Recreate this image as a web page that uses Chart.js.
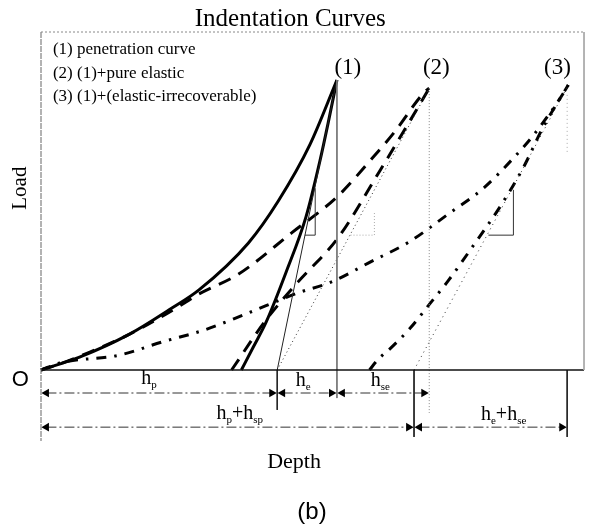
<!DOCTYPE html>
<html>
<head>
<meta charset="utf-8">
<script src="https://cdn.jsdelivr.net/npm/chart.js@4"></script>
<style>
  html, body { margin: 0; padding: 0; background: #fff; }
  #wrap { width: 589px; height: 528px; position: relative; }
</style>
</head>
<body>
<div id="wrap"><canvas id="chart"></canvas></div>
<script>
// depth (0..100) / load (0..100)
const penLoading   = [[0,0],[7.1,3.8],[16.3,10.6],[23.6,17.8],[29.1,23.7],[38.2,37.6],[43.7,50.0],[49.5,66.6],[54.5,85.8]];
const penUnloading = [[36.9,0],[39.1,6.8],[41.5,14.3],[45.2,29.2],[48.8,45.3],[51.4,62.1],[53.0,74.0],[54.5,85.8]];
const penTangent   = [[43.5,0],[54.5,85.8]];
const penSlopeTri  = [[48.6,39.9],[50.5,39.9],[50.5,53.8]];

const elaLoading   = [[0,0],[4.0,2.1],[9.0,5.3],[15.7,10.1],[21.8,15.4],[26.7,20.1],[29.1,22.5],[36.4,28.4],[46.1,40.5],[54.7,51.5],[60.7,62.1],[65.1,70.4],[70.6,82.2],[71.5,83.4]];
const elaUnloading = [[35.1,0],[41.3,14.5],[47.3,26.0],[54.7,39.1],[62.5,59.2],[67.5,72.5],[71.5,83.4]];
const elaSlope     = [[43.5,0],[71.5,83.4]];
const elaSlopeTri  = [[57.0,39.9],[61.4,39.9],[61.4,46.7]];

const irrLoading   = [[0,0],[3.5,2.1],[14.4,4.4],[22.3,8.3],[30.0,11.8],[37.3,16.3],[47.3,22.8],[53.4,26.0],[60.7,32.0],[67.8,37.9],[74.8,45.9],[81.5,53.8],[87.0,62.7],[90.7,69.5],[95.4,79.9],[97.1,84.3]];
const irrUnloading = [[60.5,0],[62.0,3.0],[64.4,6.5],[68.0,12.4],[71.7,19.8],[74.8,26.0],[79.7,37.0],[84.5,48.2],[88.8,59.8],[92.5,71.9],[97.1,84.3]];
const irrSlope     = [[68.7,0],[97.1,84.3]];
const irrSlopeTri  = [[82.4,39.9],[87.0,39.9],[87.0,53.3]];

// reference verticals
const peak1Drop = [[54.5,85.8],[54.5,-8.3]];
const peak2Drop = [[71.5,83.4],[71.5,-12.7]];
const peak3Drop = [[96.9,81.4],[96.9,64.2]];
const tickLines = [
  [[43.5,0],[43.5,-11.8]],
  [[68.7,0],[68.7,-19.8]],
  [[96.9,0],[96.9,-19.8]]
];

// dimension arrows (row, from, to)
const dimRow1 = -6.8, dimRow2 = -16.9;
const dimSpans = [
  [dimRow1, 0, 43.5],
  [dimRow1, 43.5, 54.5],
  [dimRow1, 54.5, 71.5],
  [dimRow2, 0, 68.7],
  [dimRow2, 68.7, 96.9]
];
const dimLabels = [
  ['h_p', 19.9, -2.7],
  ['h_e', 48.3, -3.3],
  ['h_se', 62.5, -3.3],
  ['h_p+h_sp', 36.6, -13.0],
  ['h_e+h_se', 85.2, -13.3]
];

const legendLines = ['(1) penetration curve', '(2) (1)+pure elastic', '(3) (1)+(elastic-irrecoverable)'];
const legendY = [94.7, 87.6, 80.8];
const peakLabels = [['(1)', 56.5, 89.3], ['(2)', 72.8, 89.3], ['(3)', 95.1, 89.3]];

const toPts = arr => arr.map(([x, y]) => ({ x, y }));
const line = (data, opts) => Object.assign({
  data: toPts(data), showLine: true, pointRadius: 0, borderColor: '#000',
  borderWidth: 1, fill: false, clip: false, tension: 0
}, opts || {});

const datasets = [];
// frame
datasets.push(line([[0,100],[100,100]], { borderColor: '#888', borderDash: [2, 2] }));
datasets.push(line([[100,100],[100,0]], { borderColor: '#aaa' }));
datasets.push(line([[0,100],[0,-21]], { borderColor: '#666', borderDash: [6, 1] }));
datasets.push(line([[0,0],[100,0]], { borderColor: '#111', borderWidth: 1.5 }));

// helper lines
datasets.push(line(peak1Drop, { borderColor: '#777' }));
datasets.push(line(peak2Drop, { borderColor: '#888', borderDash: [1, 2] }));
datasets.push(line(peak3Drop, { borderColor: '#aaa', borderDash: [1, 3] }));
tickLines.forEach(t => datasets.push(line(t, { borderColor: '#222' })));
datasets.push(line(penTangent, { borderColor: '#222' }));
datasets.push(line(penSlopeTri, { borderColor: '#333' }));
datasets.push(line(elaSlope, { borderColor: '#333', borderDash: [1, 3] }));
datasets.push(line(elaSlopeTri, { borderColor: '#aaa', borderDash: [1, 2] }));
datasets.push(line(irrSlope, { borderColor: '#333', borderDash: [1, 4] }));
datasets.push(line(irrSlopeTri, { borderColor: '#333' }));

// curves
datasets.push(line(penLoading, { borderWidth: 3, cubicInterpolationMode: 'monotone' }));
datasets.push(line(penUnloading, { borderWidth: 3, cubicInterpolationMode: 'monotone' }));
datasets.push(line(elaLoading, { borderWidth: 3, borderDash: [13, 9], cubicInterpolationMode: 'monotone' }));
datasets.push(line(elaUnloading, { borderWidth: 3, borderDash: [13, 9], cubicInterpolationMode: 'monotone' }));
datasets.push(line(irrLoading, { borderWidth: 3, borderDash: [10, 8, 2.5, 8], cubicInterpolationMode: 'monotone' }));
datasets.push(line(irrUnloading, { borderWidth: 3, borderDash: [10, 8, 2.5, 8], cubicInterpolationMode: 'monotone' }));

// dimension arrows
dimSpans.forEach(([y, a, b]) => {
  datasets.push(line([[a + 1.0, y], [b - 1.0, y]], {
    borderColor: '#333', borderDash: [10, 3, 2, 3],
    pointRadius: 5, pointStyle: 'triangle', rotation: [-90, 90],
    pointBackgroundColor: '#000', pointBorderColor: '#000', pointBorderWidth: 0
  }));
});

const textPlugin = {
  id: 'sketchText',
  afterDraw(chart) {
    const { ctx } = chart;
    const xs = chart.scales.x, ys = chart.scales.y;
    const px = v => xs.getPixelForValue(v), py = v => ys.getPixelForValue(v);
    ctx.save();
    ctx.fillStyle = '#000';
    ctx.textBaseline = 'middle';

    ctx.textAlign = 'center';
    ctx.font = '25px "Liberation Serif", serif';
    ctx.fillText('Indentation Curves', px(45.9), py(103.6));

    ctx.textAlign = 'left';
    ctx.font = '17px "Liberation Serif", serif';
    legendLines.forEach((t, i) => ctx.fillText(t, px(2.2), py(legendY[i])));

    ctx.textAlign = 'center';
    ctx.font = '23px "Liberation Serif", serif';
    peakLabels.forEach(([t, x, y]) => ctx.fillText(t, px(x), py(y)));

    // axis labels
    ctx.save();
    ctx.translate(px(-3.8), py(53.8));
    ctx.rotate(-Math.PI / 2);
    ctx.font = '21px "Liberation Serif", serif';
    ctx.fillText('Load', 0, 0);
    ctx.restore();

    ctx.font = '22px "Liberation Sans", sans-serif';
    ctx.fillText('O', px(-3.8), py(-3.0));

    ctx.font = '22px "Liberation Serif", serif';
    ctx.fillText('Depth', px(46.6), py(-27.2));

    ctx.font = '24px "Liberation Sans", sans-serif';
    ctx.fillText('(b)', px(49.9), py(-42.0));

    // h labels with subscripts
    const big = '20px "Liberation Serif", serif', small = '11px "Liberation Serif", serif';
    dimLabels.forEach(([t, x, y]) => {
      const parts = [];
      t.split('+').forEach((term, i) => {
        if (i > 0) parts.push({ s: '+', sub: false });
        const [b, s] = term.split('_');
        parts.push({ s: b, sub: false });
        if (s) parts.push({ s: s, sub: true });
      });
      let w = 0;
      parts.forEach(p => { ctx.font = p.sub ? small : big; p.w = ctx.measureText(p.s).width; w += p.w; });
      let cx = px(x) - w / 2;
      const cy = py(y);
      ctx.textAlign = 'left';
      parts.forEach(p => {
        ctx.font = p.sub ? small : big;
        ctx.fillText(p.s, cx, p.sub ? cy + 6 : cy);
        cx += p.w;
      });
    });
    ctx.restore();
  }
};

new Chart(document.getElementById('chart'), {
  type: 'scatter',
  data: { datasets },
  options: {
    responsive: true,
    maintainAspectRatio: false,
    animation: false,
    layout: { padding: { left: 41, top: 32, right: 1, bottom: 87 } },
    plugins: { legend: { display: false }, tooltip: { enabled: false }, title: { display: false } },
    scales: {
      x: { type: 'linear', min: 0, max: 100, display: false },
      y: { type: 'linear', min: -21, max: 100, display: false }
    }
  },
  plugins: [textPlugin]
});
</script>
</body>
</html>
